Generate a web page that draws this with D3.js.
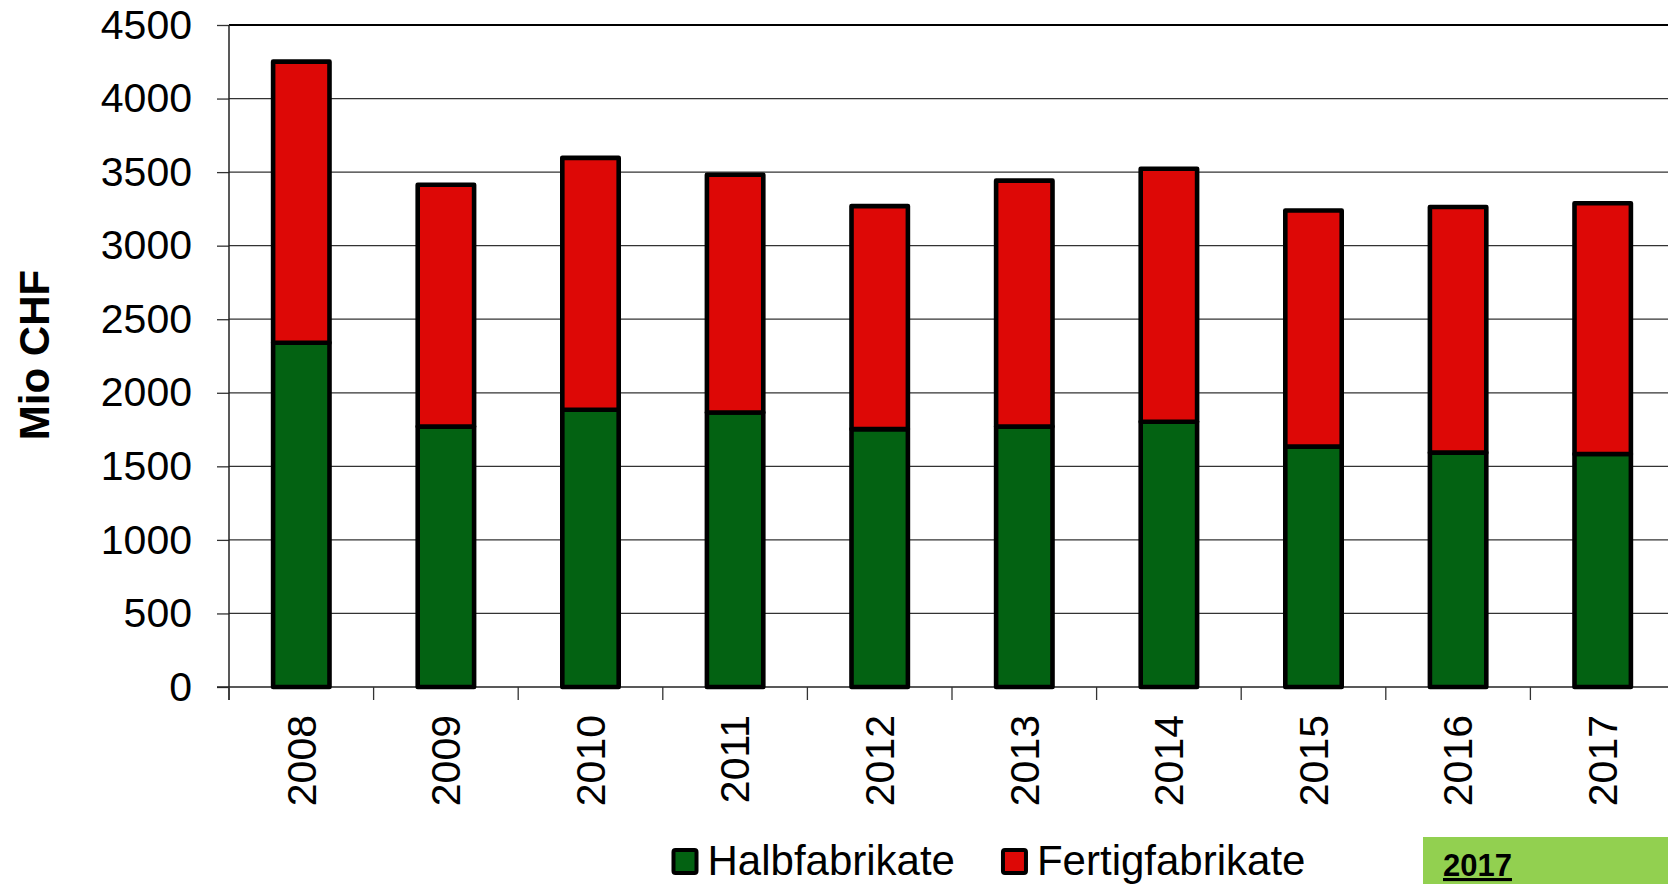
<!DOCTYPE html>
<html>
<head>
<meta charset="utf-8">
<script src="https://cdn.jsdelivr.net/npm/d3@7"></script>
<style>
  html, body { margin: 0; padding: 0; background: #fff; }
  svg { display: block; }
  text { font-family: "Liberation Sans", Arial, sans-serif; fill: #000; }
</style>
</head>
<body>
<div id="chart"></div>
<script>
// values (Mio CHF)
const years = ["2008", "2009", "2010", "2011", "2012", "2013", "2014", "2015", "2016", "2017"];
const halbfabrikate = [2340, 1770, 1885, 1866, 1753, 1770, 1803, 1634, 1593, 1584];
const fertigfabrikate = [1911, 1644, 1712, 1616, 1516, 1672, 1720, 1605, 1670, 1704];
const seriesNames = ["Halbfabrikate", "Fertigfabrikate"];
const seriesColors = ["#036212", "#DD0806"];
const yTicks = [0, 500, 1000, 1500, 2000, 2500, 3000, 3500, 4000, 4500];

const W = 1668, H = 884;
const plotLeft = 229, plotTop = 25, plotBottom = 687, plotRight = 1675;

const svg = d3.select("#chart").append("svg")
    .attr("width", W)
    .attr("height", H);

const y = d3.scaleLinear().domain([0, 4500]).range([plotBottom, plotTop]);
const x = d3.scaleBand().domain(years)
    .range([plotLeft, plotRight])
    .paddingInner(0.61)
    .paddingOuter(0.305);
const step = x.step();

// gridlines
svg.append("g").selectAll("line")
    .data(yTicks.slice(1))
    .enter().append("line")
    .attr("x1", plotLeft).attr("x2", plotRight)
    .attr("y1", d => y(d)).attr("y2", d => y(d))
    .attr("stroke", d => d === 4500 ? "#000" : "#333")
    .attr("stroke-width", d => d === 4500 ? 2 : 1.3);

// y axis
const yAxis = svg.append("g")
    .attr("transform", "translate(" + plotLeft + ",0)")
    .call(d3.axisLeft(y).tickValues(yTicks).tickSize(12).tickPadding(25).tickFormat(d3.format("d")));
yAxis.select(".domain").remove();
yAxis.selectAll(".tick line").attr("stroke", "#333").attr("stroke-width", 1.3);
yAxis.selectAll("text").style("font-size", "41px").attr("fill", "#000");
svg.append("line")
    .attr("x1", plotLeft).attr("x2", plotLeft)
    .attr("y1", plotTop).attr("y2", plotBottom + 13)
    .attr("stroke", "#222").attr("stroke-width", 1.5);

// x axis line + boundary ticks
svg.append("line")
    .attr("x1", plotLeft - 12).attr("x2", plotRight)
    .attr("y1", plotBottom).attr("y2", plotBottom)
    .attr("stroke", "#222").attr("stroke-width", 1.5);
svg.append("g").selectAll("line")
    .data(d3.range(years.length + 1))
    .enter().append("line")
    .attr("x1", i => plotLeft + i * step).attr("x2", i => plotLeft + i * step)
    .attr("y1", plotBottom).attr("y2", plotBottom + 13)
    .attr("stroke", "#333").attr("stroke-width", 1.3);

// year labels, rotated
svg.append("g").selectAll("text")
    .data(years)
    .enter().append("text")
    .attr("transform", d => "translate(" + (x(d) + x.bandwidth() / 2) + ",715) rotate(-90)")
    .attr("text-anchor", "end")
    .attr("dy", "0.35em")
    .style("font-size", "41px")
    .text(d => d);

// stacked bars
const rows = years.map((yr, i) => ({ year: yr, Halbfabrikate: halbfabrikate[i], Fertigfabrikate: fertigfabrikate[i] }));
const stacked = d3.stack().keys(seriesNames)(rows);

svg.append("g").selectAll("g")
    .data(stacked)
    .enter().append("g")
    .attr("fill", (d, i) => seriesColors[i])
    .selectAll("rect")
    .data(d => d)
    .enter().append("rect")
    .attr("x", d => x(d.data.year))
    .attr("width", x.bandwidth())
    .attr("y", d => y(d[1]))
    .attr("height", d => y(d[0]) - y(d[1]))
    .attr("stroke", "#000")
    .attr("stroke-width", 4.6)
    .attr("stroke-linejoin", "round");

// axis title
svg.append("text")
    .attr("transform", "translate(34,355) rotate(-90)")
    .attr("text-anchor", "middle")
    .attr("dy", "0.35em")
    .style("font-size", "42px")
    .style("font-weight", "bold")
    .text("Mio CHF");

// legend
const legend = svg.append("g");
let lx = 673.5;
seriesNames.forEach((name, i) => {
  legend.append("rect")
      .attr("x", lx).attr("y", 850)
      .attr("width", 23).attr("height", 23)
      .attr("rx", 2)
      .attr("fill", seriesColors[i])
      .attr("stroke", "#000").attr("stroke-width", 4);
  const t = legend.append("text")
      .attr("x", lx + 34).attr("y", 875)
      .style("font-size", "42px")
      .text(name);
  lx = lx + 34 + t.node().getComputedTextLength() + 48;
});

// green year tag
svg.append("rect")
    .attr("x", 1423).attr("y", 837)
    .attr("width", W - 1423).attr("height", H - 837)
    .attr("fill", "#92D050");
svg.append("text")
    .attr("x", 1443).attr("y", 876)
    .style("font-size", "31px")
    .style("font-weight", "bold")
    .style("text-decoration", "underline")
    .text("2017");
</script>
</body>
</html>
